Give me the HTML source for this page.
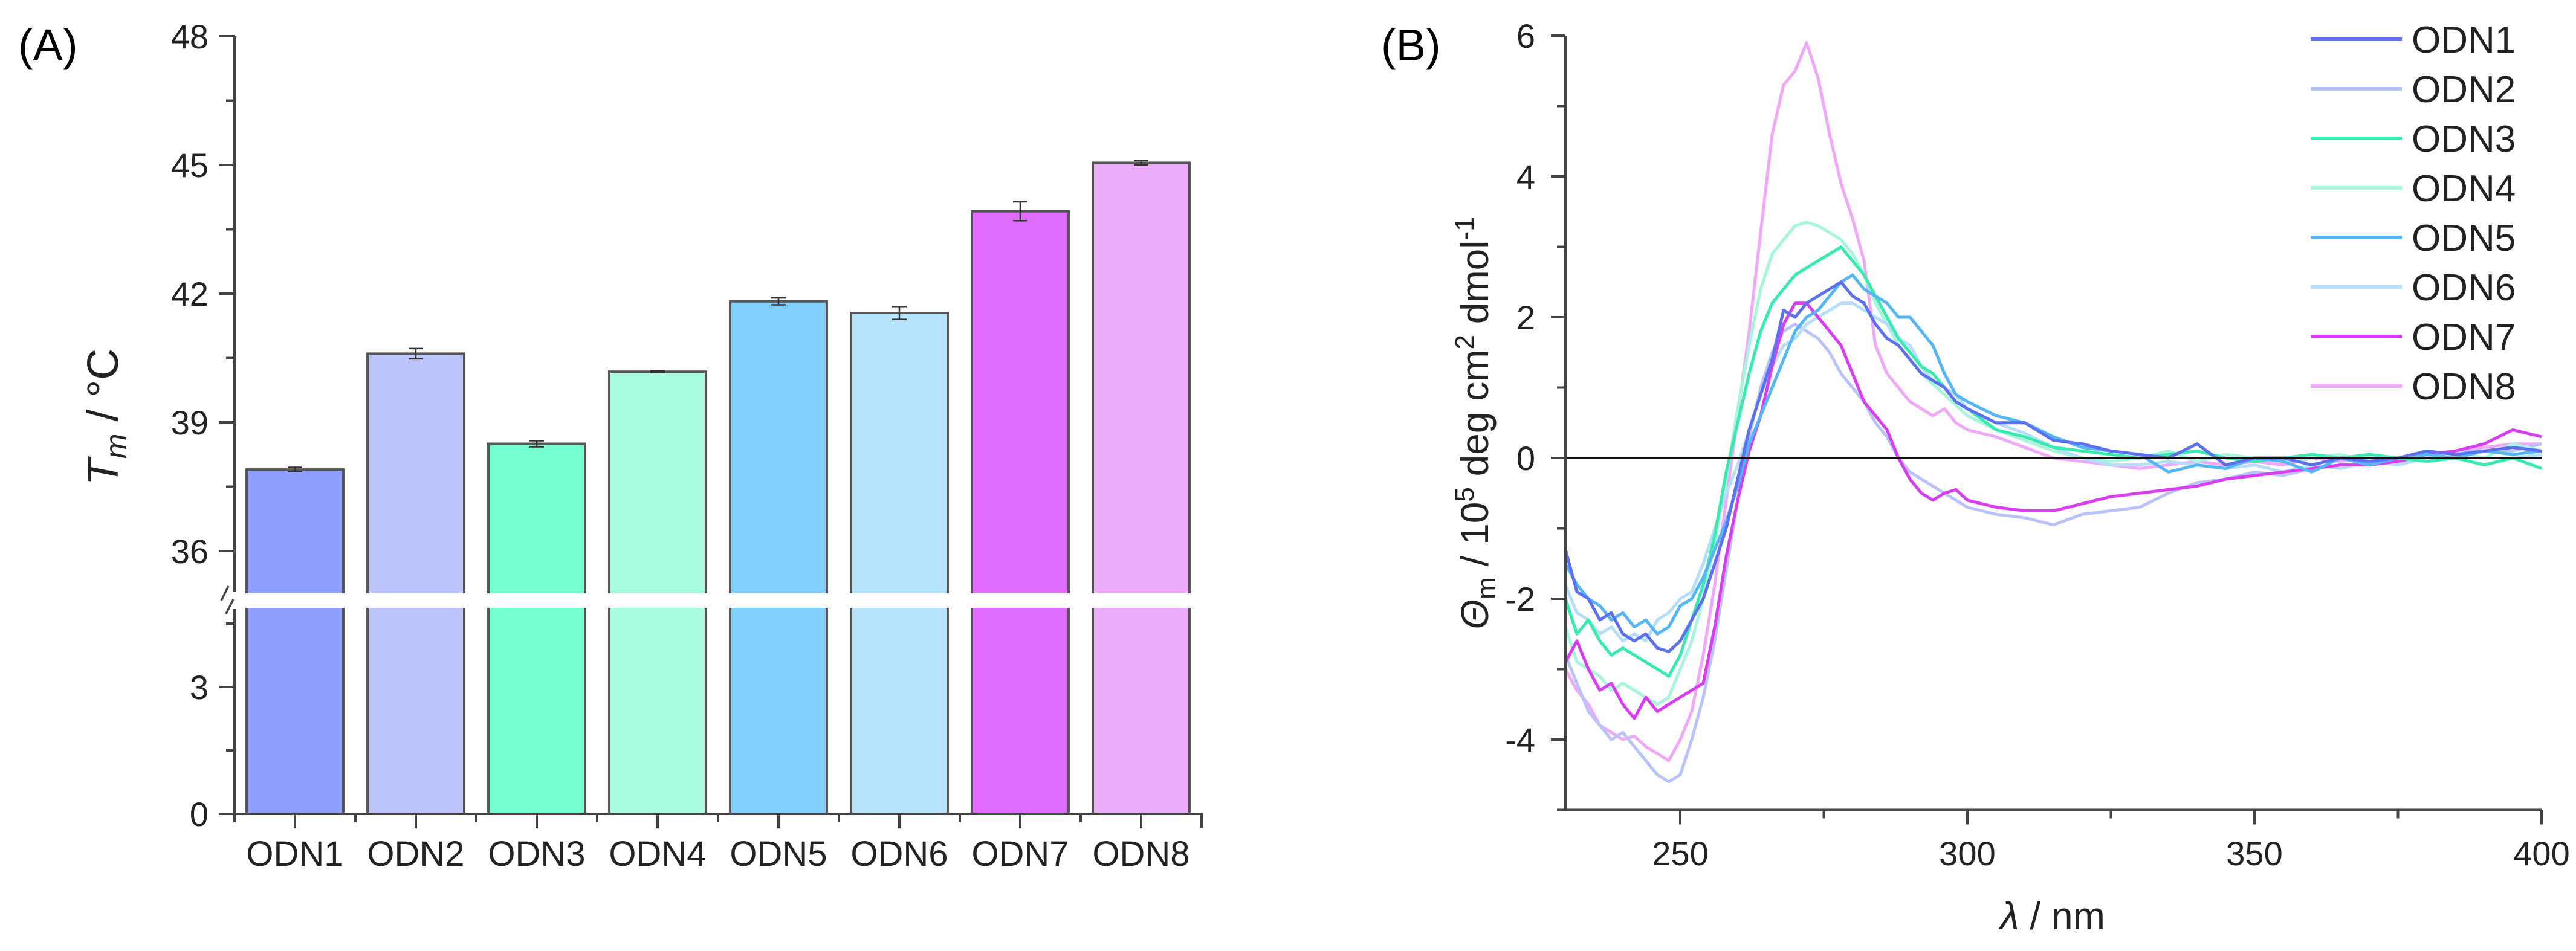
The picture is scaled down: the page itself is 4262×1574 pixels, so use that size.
<!DOCTYPE html>
<html><head><meta charset="utf-8"><style>
html,body{margin:0;padding:0;background:#fff}
svg{display:block;font-family:"Liberation Sans",Arial,sans-serif}
</style></head><body>
<svg id="fig" width="4262" height="1574" viewBox="0 0 4262 1574" xmlns="http://www.w3.org/2000/svg">
<g id="panelA"></g>
<g id="panelB"></g>
</svg>
<script>
// ---- Panel A data ----
const barNames = ["ODN1","ODN2","ODN3","ODN4","ODN5","ODN6","ODN7","ODN8"];
const tmValues = [37.9,40.6,38.5,40.18,41.82,41.55,43.92,45.05];
const tmErrors = [0.05,0.12,0.07,0.02,0.08,0.15,0.22,0.05];
const barColors = ["#8f9dfd","#bcc3fd","#74ffd0","#a8fde1","#80cfff","#b6e4fe","#e06cfe","#ecaefc"];
const upperTicks = [36,39,42,45,48];
const lowerTicks = [0,3];

// ---- Panel B data ----
const wl = [230,232,234,236,238,240,242,244,246,248,250,252,254,256,258,260,262,264,266,268,270,272,274,276,278,280,282,284,286,288,290,292,294,296,298,300,305,310,315,320,325,330,335,340,345,350,355,360,365,370,375,380,385,390,395,400];
const odn1 = [-1.3,-1.9,-2.0,-2.3,-2.2,-2.5,-2.6,-2.5,-2.7,-2.75,-2.6,-2.3,-2.0,-1.5,-1.0,-0.3,0.4,0.9,1.4,2.1,2.0,2.2,2.3,2.4,2.5,2.3,2.2,1.9,1.7,1.6,1.4,1.2,1.1,1.0,0.8,0.7,0.5,0.5,0.25,0.2,0.1,0.05,0.0,0.2,-0.1,0.0,0.0,-0.1,0.0,-0.05,0.0,0.1,0.05,0.1,0.15,0.1];
const odn2 = [-2.8,-3.2,-3.6,-3.8,-4.0,-3.9,-4.1,-4.3,-4.5,-4.6,-4.5,-4.0,-3.4,-2.6,-1.6,-0.6,0.3,1.0,1.5,1.8,1.9,1.8,1.7,1.5,1.2,1.0,0.8,0.5,0.3,0.0,-0.2,-0.3,-0.4,-0.5,-0.6,-0.7,-0.8,-0.85,-0.95,-0.8,-0.75,-0.7,-0.5,-0.35,-0.3,-0.2,-0.25,-0.15,-0.1,-0.1,-0.05,0.0,0.1,0.1,0.1,0.2];
const odn3 = [-2.0,-2.5,-2.3,-2.6,-2.8,-2.7,-2.8,-2.9,-3.0,-3.1,-2.8,-2.3,-1.8,-1.1,-0.2,0.5,1.2,1.8,2.2,2.4,2.6,2.7,2.8,2.9,3.0,2.8,2.6,2.3,2.0,1.7,1.5,1.3,1.2,1.0,0.8,0.7,0.4,0.3,0.15,0.1,0.05,0.0,0.05,0.1,0.0,-0.05,0.0,0.05,0.0,0.05,0.0,-0.05,0.0,-0.1,0.0,-0.15];
const odn4 = [-2.4,-2.9,-3.0,-3.1,-3.3,-3.2,-3.3,-3.4,-3.5,-3.4,-3.0,-2.6,-2.0,-1.2,-0.3,0.7,1.6,2.4,2.9,3.1,3.3,3.35,3.3,3.2,3.1,2.9,2.6,2.2,1.9,1.6,1.4,1.2,1.05,0.9,0.75,0.6,0.4,0.25,0.1,0.0,-0.05,0.0,0.1,-0.05,0.05,0.0,-0.05,0.0,0.05,-0.05,0.0,0.05,0.1,0.0,0.2,0.1];
const odn5 = [-1.5,-1.8,-2.0,-2.1,-2.3,-2.2,-2.4,-2.3,-2.5,-2.4,-2.1,-2.0,-1.7,-1.3,-0.9,-0.4,0.2,0.6,1.0,1.4,1.8,2.0,2.1,2.3,2.5,2.6,2.4,2.3,2.2,2.0,2.0,1.8,1.6,1.2,0.9,0.8,0.6,0.5,0.3,0.15,0.1,0.05,-0.2,-0.1,-0.15,0.0,-0.05,-0.2,0.0,-0.1,0.0,0.05,0.0,0.1,0.05,0.1];
const odn6 = [-1.8,-2.2,-2.3,-2.5,-2.4,-2.6,-2.5,-2.6,-2.3,-2.2,-2.0,-1.9,-1.5,-1.0,-0.5,-0.1,0.4,0.9,1.3,1.6,1.7,1.9,2.0,2.1,2.2,2.2,2.1,2.0,1.9,1.7,1.6,1.3,1.1,1.0,0.9,0.7,0.5,0.35,0.15,0.0,-0.1,-0.1,-0.05,-0.1,-0.15,-0.1,-0.2,-0.1,-0.15,-0.05,-0.1,0.0,0.0,-0.1,0.0,0.05];
const odn7 = [-2.9,-2.6,-3.0,-3.3,-3.2,-3.5,-3.7,-3.4,-3.6,-3.5,-3.4,-3.3,-3.2,-2.4,-1.4,-0.6,0.1,0.6,1.3,1.9,2.2,2.2,2.0,1.8,1.6,1.2,0.8,0.6,0.4,0.0,-0.3,-0.5,-0.6,-0.5,-0.45,-0.6,-0.7,-0.75,-0.75,-0.65,-0.55,-0.5,-0.45,-0.4,-0.3,-0.25,-0.2,-0.15,-0.1,-0.1,-0.05,0.05,0.1,0.2,0.4,0.3];
const odn8 = [-3.0,-3.3,-3.5,-3.8,-3.9,-4.0,-3.95,-4.1,-4.2,-4.3,-4.0,-3.6,-2.8,-1.8,-0.6,0.6,1.8,3.2,4.6,5.3,5.5,5.9,5.4,4.6,3.9,3.4,2.8,1.6,1.2,1.0,0.8,0.7,0.6,0.7,0.5,0.4,0.3,0.15,0.0,-0.05,-0.1,-0.15,-0.1,-0.05,-0.1,-0.05,-0.1,0.0,-0.05,0.0,-0.05,0.05,0.1,0.15,0.2,0.2];
const lineColors = ["#5c70f0","#b9c2fb","#38eab0","#a8f5de","#55b5f5","#b5def8","#d93df2","#f0a8f8"];
const yTicksB = [-4,-2,0,2,4,6];
const xTicksB = [250,300,350,400];

const NS="http://www.w3.org/2000/svg";
function mk(tag, attrs, parent){const e=document.createElementNS(NS,tag);for(const k in attrs)e.setAttribute(k,attrs[k]);parent.appendChild(e);return e;}
const A=document.getElementById('panelA');
const B=document.getElementById('panelB');

// ---------- Panel A ----------
const axX=388, axEnd=1988, y0=1347;
const yUp=v=>60+(48-v)*71;          // upper segment
const yLo=v=>y0-v*70;               // lower segment
const barX=i=>488+i*200;
const AX="#444";

let t=mk('text',{x:30,y:100,'font-size':74},A);t.textContent="(A)";


barNames.forEach((n,i)=>{
  const cx=barX(i), top=yUp(tmValues[i]);
  const g=mk('g',{},A);
  
  const r=mk('rect',{x:cx-80,y:top,width:160,height:y0-top,fill:barColors[i],stroke:"#555","stroke-width":4},g);
  const eh=tmErrors[i]*71;
  const eb=mk('path',{d:`M${cx},${top-eh}V${top+eh}M${cx-12},${top-eh}H${cx+12}M${cx-12},${top+eh}H${cx+12}`,stroke:"#333","stroke-width":2.5,fill:"none"},g);
  
  const lt=mk('path',{d:`M${cx},${y0}V${y0+24}`,stroke:AX,"stroke-width":4},A);
  const lb=mk('text',{x:cx,y:1433,'font-size':58,'text-anchor':'middle',fill:'#222'},A);lb.textContent=n;
  
  if(i<7){mk('path',{d:`M${cx+100},${y0}V${y0+14}`,stroke:AX,"stroke-width":4},A);}
});
// axis break band
const brk=mk('rect',{x:axX-30,y:982,width:axEnd-axX+40,height:24,fill:"#fff"},A);

// y axis lines
const ya=mk('path',{d:`M${axX},${yUp(48)}V979M${axX},1008V${y0+14}M${axX-26},${yUp(48)}H${axX}`,stroke:AX,"stroke-width":4,fill:"none"},A);

mk('path',{d:`M${axX-22},994L${axX-10},970M${axX-14},1016L${axX-2},992`,stroke:AX,"stroke-width":3.5},A);
const xa=mk('path',{d:`M${axX-26},${y0}H${axEnd}V${y0+24}`,stroke:AX,"stroke-width":4,fill:"none"},A);

upperTicks.forEach(v=>{
  mk('path',{d:`M${axX-26},${yUp(v)}H${axX}`,stroke:AX,"stroke-width":4},A);
  if(v<48)mk('path',{d:`M${axX-14},${yUp(v+1.5)}H${axX}`,stroke:AX,"stroke-width":4},A);
  const l=mk('text',{x:345,y:yUp(v)+20,'font-size':56,'text-anchor':'end',fill:'#222'},A);l.textContent=v;
  
});
mk('path',{d:`M${axX-14},${yUp(36-1.5)+0}H${axX}`,stroke:"none"},A);
lowerTicks.forEach(v=>{
  mk('path',{d:`M${axX-26},${yLo(v)}H${axX}`,stroke:AX,"stroke-width":4},A);
  mk('path',{d:`M${axX-14},${yLo(v+1.5)}H${axX}`,stroke:AX,"stroke-width":4},A);
  const l=mk('text',{x:345,y:yLo(v)+20,'font-size':56,'text-anchor':'end',fill:'#222'},A);l.textContent=v;
  
});
const yt=mk('text',{x:0,y:0,'font-size':72,'text-anchor':'middle',fill:'#222',transform:'translate(195,690) rotate(-90)'},A);
yt.innerHTML='<tspan font-style="italic">T</tspan><tspan font-style="italic" font-size="50" dy="14">m</tspan><tspan dy="-14"> / °C</tspan>';


// ---------- Panel B ----------
const bx0=2590, bx1=4205;
const xB=v=>bx0+(v-230)*(bx1-bx0)/170;
const yB=v=>758-v*116.5;
t=mk('text',{x:2285,y:100,'font-size':74},B);t.textContent="(B)";


const series=[odn1,odn2,odn3,odn4,odn5,odn6,odn7,odn8];
const drawOrder=[7,1,3,5,6,2,4,0];
drawOrder.forEach(si=>{
  const d=wl.map((w,i)=>(i?'L':'M')+xB(w).toFixed(1)+','+yB(series[si][i]).toFixed(1)).join('');
  const p=mk('path',{d:d,fill:'none',stroke:lineColors[si],'stroke-width':5,'stroke-linejoin':'round'},B);
  
  
});
const zl=mk('path',{d:`M${bx0},${yB(0)}H${bx1}`,stroke:'#111','stroke-width':4},B);

const bya=mk('path',{d:`M${bx0},${yB(6)}V${yB(-5)}H${bx1}`,stroke:AX,'stroke-width':4,fill:'none'},B);

for(let v=-5;v<=6;v++){
  const major=yTicksB.includes(v);
  mk('path',{d:`M${bx0-(major?24:14)},${yB(v)}H${bx0}`,stroke:AX,'stroke-width':4},B);
}
yTicksB.forEach(v=>{
  const l=mk('text',{x:2540,y:yB(v)+20,'font-size':56,'text-anchor':'end',fill:'#222'},B);l.textContent=v;
  
});
for(let v=250;v<=400;v+=25){
  const major=xTicksB.includes(v);
  mk('path',{d:`M${xB(v)},${yB(-5)}V${yB(-5)+(major?24:14)}`,stroke:AX,'stroke-width':4},B);
}
xTicksB.forEach(v=>{
  const l=mk('text',{x:xB(v),y:1432,'font-size':56,'text-anchor':'middle',fill:'#222'},B);l.textContent=v;
  
});
const xt=mk('text',{x:3396,y:1538,'font-size':64,'text-anchor':'middle',fill:'#222'},B);
xt.innerHTML='<tspan font-style="italic">λ</tspan> / nm';

const byt=mk('text',{x:0,y:0,'font-size':64,'text-anchor':'middle',fill:'#222',transform:'translate(2462,700) rotate(-90)'},B);
byt.innerHTML='<tspan font-style="italic">Θ</tspan><tspan font-size="44" dy="12">m</tspan><tspan dy="-12"> / 10</tspan><tspan font-size="44" dy="-24">5</tspan><tspan dy="24"> deg cm</tspan><tspan font-size="44" dy="-24">2</tspan><tspan dy="24"> dmol</tspan><tspan font-size="44" dy="-24">-1</tspan>';


// legend
const lg=mk('g',{},B);

barNames.forEach((n,i)=>{
  const y=65+i*82;
  const e=mk('g',{},lg);
  
  mk('path',{d:`M3823,${y}H3974`,stroke:lineColors[i],'stroke-width':6},e);
  const tx=mk('text',{x:3990,y:y+22,'font-size':62,fill:'#222'},e);tx.textContent=n;
});
</script>
</body></html>
